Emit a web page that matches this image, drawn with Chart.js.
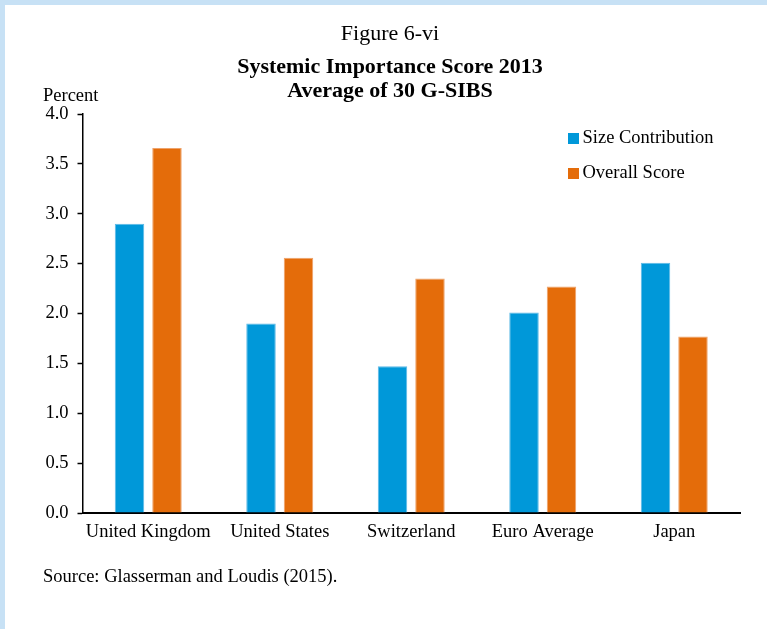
<!DOCTYPE html>
<html>
<head>
<meta charset="utf-8">
<title>Systemic Importance Score 2013</title>
<script src="https://cdn.jsdelivr.net/npm/chart.js@4.4.1/dist/chart.umd.min.js"></script>
<style>
  html, body { margin: 0; padding: 0; background: #ffffff; }
  #frame { position: relative; width: 767px; height: 629px; background: #ffffff; overflow: hidden; }
  #frame::before { content: ""; position: absolute; left: 0; top: 0; width: 767px; height: 5px; background: #c7e1f5; }
  #frame::after { content: ""; position: absolute; left: 0; top: 0; width: 5px; height: 629px; background: #c7e1f5; }
  canvas { position: absolute; left: 0; top: 0; }
</style>
</head>
<body>
<div id="frame"><canvas id="chart" width="767" height="629"></canvas></div>
<script>
// Country groups and the two series plotted for each
const categories = ["United Kingdom", "United States", "Switzerland", "Euro Average", "Japan"];
const sizeContribution = [2.90, 1.90, 1.47, 2.01, 2.51];
const overallScore = [3.66, 2.56, 2.35, 2.27, 1.77];
const yTicks = [0, 0.5, 1.0, 1.5, 2.0, 2.5, 3.0, 3.5, 4.0];

const figureLabel = "Figure 6-vi";
const titleLines = ["Systemic Importance Score 2013", "Average of 30 G-SIBS"];
const unitLabel = "Percent";
const sourceNote = "Source: Glasserman and Loudis (2015).";

const SERIF = "'Liberation Serif', 'Times New Roman', serif";
const BLUE = "#0098d9";
const ORANGE = "#e46c0a";

// Titles, unit label, source line and the in-plot legend
const annotations = {
  id: "annotations",
  afterDraw(chart) {
    const ctx = chart.ctx;
    ctx.save();
    ctx.fillStyle = "#000";
    ctx.textBaseline = "alphabetic";
    ctx.textAlign = "center";
    ctx.font = "22px " + SERIF;
    ctx.fillText(figureLabel, 390, 40);
    ctx.font = "bold 22px " + SERIF;
    ctx.fillText(titleLines[0], 390, 73);
    ctx.fillText(titleLines[1], 390, 97);

    ctx.textAlign = "left";
    ctx.font = "18.5px " + SERIF;
    ctx.fillText(unitLabel, 43, 101);
    ctx.fillText(sourceNote, 43, 582);

    // legend
    const items = chart.data.datasets;
    items.forEach((ds, i) => {
      const y = 133 + i * 35;
      ctx.fillStyle = ds.backgroundColor;
      ctx.fillRect(568, y, 11, 11);
      ctx.fillStyle = "#000";
      ctx.textBaseline = "middle";
      ctx.fillText(ds.label, 582.5, y + 5);
    });
    ctx.restore();
  }
};

new Chart(document.getElementById("chart"), {
  type: "bar",
  data: {
    labels: categories,
    datasets: [
      {
        label: "Size Contribution",
        data: sizeContribution,
        backgroundColor: BLUE,
        borderColor: "#5cb9e6",
        borderWidth: { top: 1, left: 1, right: 1, bottom: 0 },
        categoryPercentage: 0.57,
        barPercentage: 0.787
      },
      {
        label: "Overall Score",
        data: overallScore,
        backgroundColor: ORANGE,
        borderColor: "#eea26a",
        borderWidth: { top: 1, left: 1, right: 1, bottom: 0 },
        categoryPercentage: 0.57,
        barPercentage: 0.787
      }
    ]
  },
  options: {
    responsive: false,
    animation: false,
    devicePixelRatio: 1,
    layout: { padding: { left: 32.5, top: 114, right: 27, bottom: 76 } },
    plugins: {
      legend: { display: false },
      title: { display: false },
      tooltip: { enabled: false }
    },
    scales: {
      x: {
        grid: { display: false },
        border: { display: true, color: "#000", width: 2 },
        ticks: {
          color: "#000",
          font: { family: SERIF, size: 18.5 },
          padding: 0,
          maxRotation: 0,
          autoSkip: false
        },
        afterFit(scale) { scale.height = 40; }
      },
      y: {
        min: 0,
        max: 4,
        grid: {
          drawOnChartArea: false,
          drawTicks: true,
          tickLength: 5,
          tickWidth: 1.5,
          tickColor: "#000"
        },
        border: { display: true, color: "#000", width: 1.5 },
        afterBuildTicks(scale) {
          scale.ticks = yTicks.map(v => ({ value: v }));
        },
        ticks: {
          color: "#000",
          font: { family: SERIF, size: 18.5 },
          padding: 9,
          callback: v => Number(v).toFixed(1)
        },
        afterFit(scale) { scale.width = 50; }
      }
    }
  },
  plugins: [annotations]
});
</script>
</body>
</html>
